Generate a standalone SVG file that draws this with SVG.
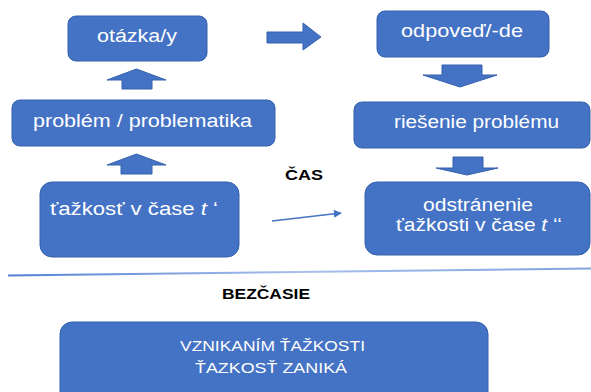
<svg xmlns="http://www.w3.org/2000/svg" width="591" height="392" viewBox="0 0 591 392">
<defs>
<style>
.box{fill:#4472c4;stroke:#3461ad;stroke-width:1}
.blk{fill:#4472c4;stroke:#3461ad;stroke-width:1}
.t{font-family:"Liberation Sans",Arial,sans-serif;font-size:18px;fill:#ffffff;text-anchor:middle}
.c{font-family:"Liberation Sans",Arial,sans-serif;font-size:15px;fill:#ffffff;text-anchor:middle}
.b{font-family:"Liberation Sans",Arial,sans-serif;font-size:14px;font-weight:bold;fill:#000000;text-anchor:middle}
</style>
<marker id="ah" viewBox="0 0 10 10" refX="9" refY="5" markerWidth="8" markerHeight="8" markerUnits="userSpaceOnUse" orient="auto">
<path d="M0,0 L10,5 L0,10 z" fill="#4472c4"/>
</marker>
<linearGradient id="lg" x1="0" y1="0" x2="1" y2="0">
<stop offset="0" stop-color="#4f7fd3"/>
<stop offset="0.5" stop-color="#a7c0ea"/>
<stop offset="1" stop-color="#7fa3df"/>
</linearGradient>
</defs>

<g id="connectors">
<path class="blk" d="M136.5,69 L166,80 L152,80 L152,89 L122,89 L122,80 L107,80 Z"/>
<path class="blk" d="M136.5,154 L166,165 L152,165 L152,174 L121,174 L121,165 L107,165 Z"/>
<path class="blk" d="M267,32 L303,32 L303,23 L321,37 L303,50 L303,43 L267,43 Z"/>
<path class="blk" d="M442,65 L482,65 L482,75 L497,75 L460,87 L423,75 L442,75 Z"/>
<path class="blk" d="M453,157 L483,157 L483,168 L498,168 L467,175 L436,168 L453,168 Z"/>
<line x1="272" y1="221" x2="341" y2="213" stroke="#4472c4" stroke-width="1.5" marker-end="url(#ah)"/>
</g>

<g id="divider">
<path d="M8,275.5 L591,268.5" stroke="url(#lg)" stroke-width="2" fill="none"/>
</g>

<g id="otazka">
<rect class="box" x="68" y="16" width="139" height="45" rx="8"/>
<text class="t" x="137" y="42" textLength="80" lengthAdjust="spacingAndGlyphs">otázka/y</text>
</g>

<g id="problem">
<rect class="box" x="12" y="100" width="263" height="46" rx="8"/>
<text class="t" x="142.5" y="127" textLength="219" lengthAdjust="spacingAndGlyphs">problém / problematika</text>
</g>

<g id="tazkost">
<rect class="box" x="40" y="182" width="199" height="75" rx="12"/>
<text class="t" x="134" y="215" textLength="168" lengthAdjust="spacingAndGlyphs">ťažkosť v čase <tspan font-style="italic">t</tspan> ‘</text>
</g>

<g id="odpoved">
<rect class="box" x="377" y="11" width="172" height="46" rx="8"/>
<text class="t" x="462" y="37" textLength="122" lengthAdjust="spacingAndGlyphs">odpoveď/-de</text>
</g>

<g id="riesenie">
<rect class="box" x="354" y="102" width="236" height="46" rx="8"/>
<text class="t" x="476.5" y="128" textLength="165" lengthAdjust="spacingAndGlyphs">riešenie problému</text>
</g>

<g id="odstranenie">
<rect class="box" x="365" y="182" width="225" height="73" rx="12"/>
<text class="t" x="478" y="211" textLength="110" lengthAdjust="spacingAndGlyphs">odstránenie</text>
<text class="t" x="479" y="231" textLength="166" lengthAdjust="spacingAndGlyphs">ťažkosti v čase <tspan font-style="italic">t</tspan> ‘‘</text>
</g>

<g id="cas">
<text class="b" x="304" y="180" textLength="38" lengthAdjust="spacingAndGlyphs">ČAS</text>
</g>

<g id="bezcasie">
<text class="b" x="266" y="299" textLength="88" lengthAdjust="spacingAndGlyphs">BEZČASIE</text>
</g>

<g id="vznikanim">
<rect class="box" x="60" y="322" width="428" height="90" rx="12"/>
<text class="c" x="272.5" y="351" textLength="185" lengthAdjust="spacingAndGlyphs">VZNIKANÍM ŤAŽKOSTI</text>
<text class="c" x="271" y="373" textLength="152" lengthAdjust="spacingAndGlyphs">ŤAZKOSŤ ZANIKÁ</text>
</g>
</svg>
